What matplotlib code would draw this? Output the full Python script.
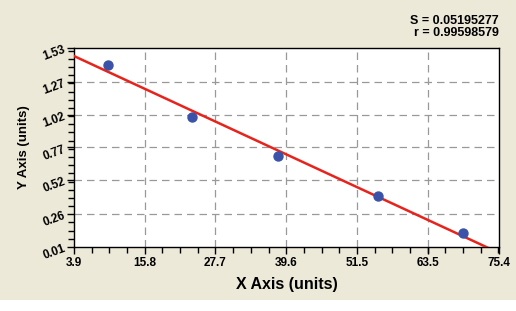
import numpy as np
import matplotlib.pyplot as plt
from matplotlib.patches import Rectangle
from matplotlib.ticker import FixedLocator, AutoMinorLocator

# data
x_vals = [9.7, 23.8, 38.2, 55.0, 69.3]
y_vals = [1.40, 1.005, 0.707, 0.402, 0.117]
x_ticks = [3.9, 15.8, 27.7, 39.6, 51.5, 63.5, 75.4]
y_ticks = [0.01, 0.26, 0.52, 0.77, 1.02, 1.27, 1.53]
stats = ["S = 0.05195277", "r = 0.99598579"]

plt.rcParams['font.family'] = ['Liberation Sans', 'DejaVu Sans']
plt.rcParams['font.weight'] = 'bold'

fig = plt.figure(figsize=(5.16, 3.11), dpi=100)
fig.patch.set_facecolor('white')
W, H = 516.0, 311.0
fig.patches.append(Rectangle((0, (H - 300) / H), 1, 300 / H, transform=fig.transFigure,
                             facecolor='#ECE9D8', edgecolor='none', zorder=-10))

ax = fig.add_axes([74 / W, 1 - 247 / H, 425 / W, 199 / H])
ax.set_facecolor('white')

# linear fit
k, b = np.polyfit(x_vals, y_vals, 1)
fx = np.array([x_ticks[0], x_ticks[-1]])
ax.plot(fx, k * fx + b, color='#E8231B', lw=1.8, zorder=3)
ax.scatter(x_vals, y_vals, s=42, color='#3A52A8', zorder=4)

ax.set_xlim(x_ticks[0], x_ticks[-1])
ax.set_ylim(y_ticks[0], y_ticks[-1])
ax.xaxis.set_major_locator(FixedLocator(x_ticks))
ax.yaxis.set_major_locator(FixedLocator(y_ticks))
ax.set_xticklabels([f"{v:.1f}" for v in x_ticks])
ax.set_yticklabels([f"{v:.2f}" for v in y_ticks], rotation=20, ha='right',
                   rotation_mode='anchor')
ax.xaxis.set_minor_locator(AutoMinorLocator(4))
ax.yaxis.set_minor_locator(AutoMinorLocator(4))
ax.tick_params(which='major', length=5, width=1, labelsize=8.5, pad=2, color='black')
ax.tick_params(which='minor', length=4, width=1, color='black')
for lbl in ax.get_xticklabels() + ax.get_yticklabels():
    lbl.set_fontweight('bold')

for v in x_ticks[1:-1]:
    ax.axvline(v, color='#999999', lw=0.9, ls=(0, (6, 4)), zorder=1)
for v in y_ticks[1:-1]:
    ax.axhline(v, color='#999999', lw=0.9, ls=(0, (6, 4)), zorder=1)

for sp in ax.spines.values():
    sp.set_linewidth(1.0)
    sp.set_color('black')

ax.set_xlabel("X Axis (units)", fontsize=11.5, fontweight='bold', labelpad=6)
ax.set_ylabel("Y Axis (units)", fontsize=9.5, fontweight='bold', labelpad=8)

fig.text(499 / W, 1 - 21 / H, stats[0], ha='right', va='center', fontsize=9, fontweight='bold')
fig.text(499 / W, 1 - 33 / H, stats[1], ha='right', va='center', fontsize=9, fontweight='bold')

fig.savefig('out.png', dpi=100)
